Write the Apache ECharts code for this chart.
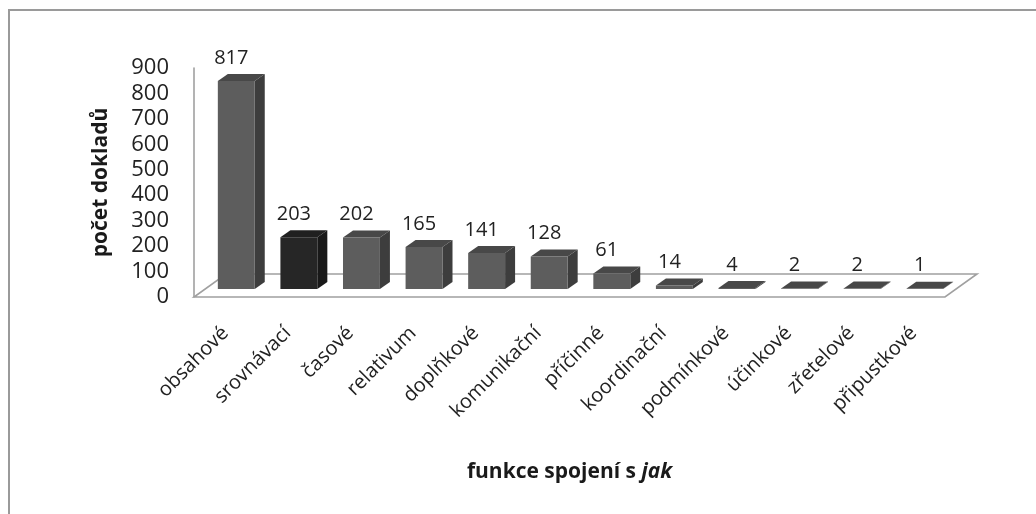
<!DOCTYPE html>
<html>
<head>
<meta charset="utf-8">
<script src="https://cdn.jsdelivr.net/npm/echarts@6/dist/echarts.min.js"></script>
<style>
  html, body { margin: 0; padding: 0; background: #ffffff; }
  #chart { width: 1036px; height: 514px; }
</style>
</head>
<body>
<div id="chart"></div>
<script>
// Functions of constructions with "jak" and their counts
const categories = ['obsahové', 'srovnávací', 'časové', 'relativum', 'doplňkové', 'komunikační',
  'příčinné', 'koordinační', 'podmínkové', 'účinkové', 'zřetelové', 'připustkové'];
const counts = [817, 203, 202, 165, 141, 128, 61, 14, 4, 2, 2, 1];
const highlighted = [1]; // index of the darker column
const yTicks = { min: 0, max: 900, step: 100 };

const FONT = '"Open Sans", "DejaVu Sans", sans-serif';
// pseudo-3D geometry (pixels)
const FLOOR_DEPTH = [32, -23];
const BAR_SHIFT = [11, -8];
const BAR_DEPTH = [10, -7];
const BAR_WIDTH_RATIO = 0.59;

const normalColors = { front: '#5d5d5d', side: '#3d3d3d', top: '#484848' };
const darkColors = { front: '#262626', side: '#191919', top: '#202020' };

function renderFloor(params, api) {
  const cs = params.coordSys;
  const x0 = cs.x, x1 = cs.x + cs.width, y0 = cs.y + cs.height;
  const dx = FLOOR_DEPTH[0], dy = FLOOR_DEPTH[1];
  return {
    type: 'group',
    children: [
      {
        type: 'polygon',
        shape: { points: [[x0, y0], [x1, y0], [x1 + dx, y0 + dy], [x0 + dx, y0 + dy]] },
        style: { fill: '#ffffff', stroke: '#a0a0a0', lineWidth: 1.6 }
      }
    ]
  };
}

function renderBar(params, api) {
  const i = api.value(0);
  const v = api.value(1);
  const base = api.coord([i, 0]);
  const top = api.coord([i, v]);
  const w = api.size([1, 0])[0] * BAR_WIDTH_RATIO;
  const xl = base[0] - w / 2 + BAR_SHIFT[0];
  const xr = xl + w;
  const yb = base[1] + BAR_SHIFT[1];
  const yt = top[1] + BAR_SHIFT[1];
  const dx = BAR_DEPTH[0], dy = BAR_DEPTH[1];
  const c = highlighted.indexOf(params.dataIndex) >= 0 ? darkColors : normalColors;
  const children = [
    {
      type: 'polygon',
      shape: { points: [[xr, yt], [xr + dx, yt + dy], [xr + dx, yb + dy], [xr, yb]] },
      style: { fill: c.side }
    },
    {
      type: 'polygon',
      shape: { points: [[xl, yt], [xl + dx, yt + dy], [xr + dx, yt + dy], [xr, yt]] },
      style: { fill: c.top }
    }
  ];
  if (yb - yt > 0.5) {
    children.push({
      type: 'rect',
      shape: { x: xl, y: yt, width: w, height: yb - yt },
      style: { fill: c.front }
    });
  }
  children.push({
    type: 'text',
    x: base[0] + 6,
    y: yt + dy - 6,
    style: {
      text: String(v),
      fill: '#222222',
      font: '20px ' + FONT,
      align: 'center',
      verticalAlign: 'bottom'
    }
  });
  return { type: 'group', children: children };
}

const chart = echarts.init(document.getElementById('chart'));
chart.setOption({
  animation: false,
  backgroundColor: '#ffffff',
  graphic: [
    {
      type: 'rect',
      shape: { x: 9, y: 10, width: 1100, height: 600 },
      style: { fill: 'none', stroke: '#9a9a9a', lineWidth: 2 },
      z: 100
    }
  ],
  grid: { left: 194, right: 91, top: 68, bottom: 217 },
  xAxis: {
    type: 'category',
    data: categories,
    boundaryGap: true,
    axisLine: { show: false },
    axisTick: { show: false },
    axisLabel: {
      rotate: 45,
      interval: 0,
      margin: 33,
      color: '#222222',
      fontSize: 20,
      fontFamily: FONT
    },
    name: '{b|funkce spojení s }{i|jak}',
    nameLocation: 'middle',
    nameGap: 165,
    nameTextStyle: {
      rich: {
        b: { fontSize: 21, fontWeight: 'bold', fontFamily: FONT, color: '#1a1a1a' },
        i: { fontSize: 21, fontWeight: 'bold', fontStyle: 'italic', fontFamily: FONT, color: '#1a1a1a' }
      }
    }
  },
  yAxis: {
    type: 'value',
    min: yTicks.min,
    max: yTicks.max,
    interval: yTicks.step,
    axisLine: { show: true, lineStyle: { color: '#a0a0a0', width: 1.6 } },
    axisTick: { show: false },
    splitLine: { show: false },
    axisLabel: { margin: 25, color: '#222222', fontSize: 22, fontFamily: FONT },
    name: 'počet dokladů',
    nameLocation: 'middle',
    nameGap: 82,
    nameTextStyle: { fontSize: 21, fontWeight: 'bold', fontFamily: FONT, color: '#1a1a1a' }
  },
  series: [
    {
      type: 'custom',
      name: 'floor',
      data: [[0, 0]],
      renderItem: renderFloor,
      silent: true,
      z: 1
    },
    {
      type: 'custom',
      name: 'počet dokladů',
      data: counts.map((v, i) => [i, v]),
      renderItem: renderBar,
      encode: { x: 0, y: 1 },
      z: 2
    }
  ]
});
</script>
</body>
</html>
